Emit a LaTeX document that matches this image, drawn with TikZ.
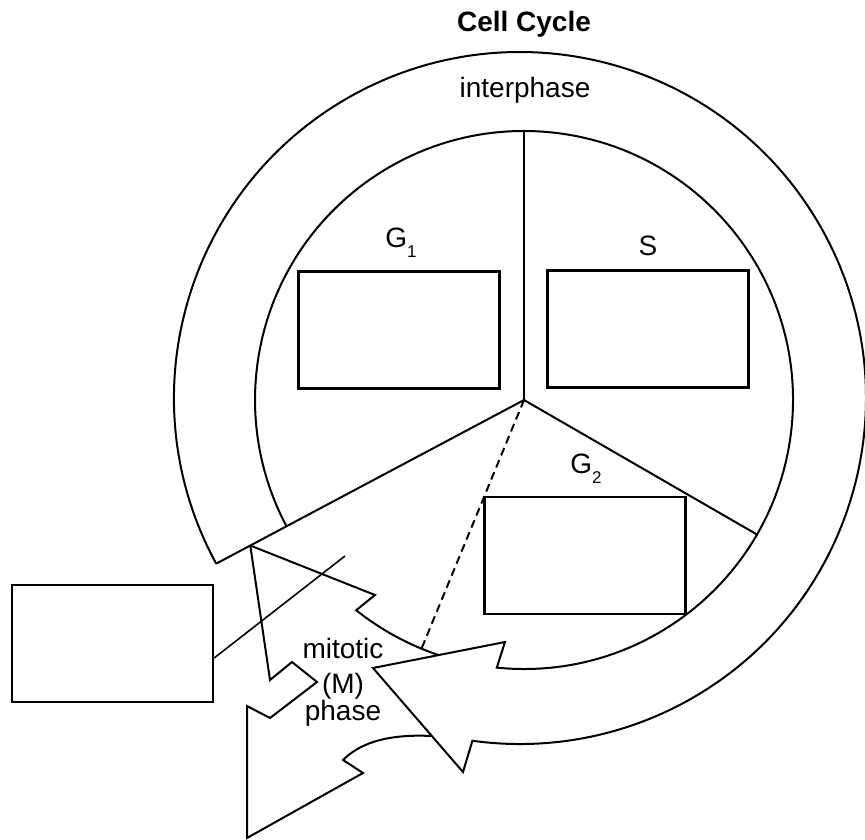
\documentclass[tikz,border=0pt]{standalone}
\usepackage{fontspec}
\setmainfont{Liberation Sans}
\usetikzlibrary{calc}
\tikzset{
  lbl/.style={inner sep=0pt, font=\fontsize{28}{32}\selectfont},
  stroke/.style={line width=2pt, line join=miter},
  box/.style={draw, line width=2.3pt, minimum width=201pt, minimum height=117pt, inner sep=0pt},
  pointer/.style={line width=1.6pt},
  divider/.style={line width=2pt, dash pattern=on 8pt off 5pt}
}
\newcommand{\subnum}[1]{\raisebox{-10pt}{\fontsize{17}{17}\selectfont #1}}
\begin{document}
\begin{tikzpicture}[x=1pt,y=-1pt]
\useasboundingbox (0,0) rectangle (865,840);
% centres
\coordinate (C) at (524,400);
% key points
\coordinate (oc) at ($(C)+(152:348.6)$);
\coordinate (ic) at ($(C)+(152:269)$);
\coordinate (top) at ($(C)+(-90:269)$);
\coordinate (rt) at ($(C)+(30:269)$);
\coordinate (dsh) at ($(C)+(112.4:269)$);
\coordinate (ni) at ($(C)+(95.8:269)$);
\coordinate (T) at (373,668);
\coordinate (U) at (505,642);
\coordinate (L) at (463,772);
\coordinate (P1) at ($(C)+(152:310)$);
\coordinate (k) at (375,595);
\coordinate (l) at ($(C)+(128.6:269)$);
\coordinate (b) at (270,680);
\coordinate (c) at (292,662);
\coordinate (d) at (317,682);
\coordinate (e) at (270,718);
\coordinate (f) at (247,706);
\coordinate (g) at (247,838);
\coordinate (h) at (363,773);
\coordinate (i) at (343,760);
\coordinate (xA) at ($(T)!0.654!(L)$);
\coordinate (mpt) at (345,556);

% ring (interphase) ending in arrowhead
\draw[stroke] (C) -- (oc);
\draw[stroke] (oc) arc[start angle=151.4, end angle=457.9, radius=346]
  -- (L) -- (T) -- (U) -- (ni) arc[start angle=95.8, end angle=-208, radius=269];
% sector dividers
\draw[stroke] (C) -- (top);
\draw[stroke] (C) -- (rt);
\draw[divider] (C) -- (dsh);
% mitotic arrows
\draw[stroke] (P1) -- (k) -- (l) arc[start angle=128.6, end angle=108.5, radius=269];
\draw[stroke] (P1) -- (b) -- (c) -- (d) -- (e) -- (f) -- (g) -- (h) -- (i)
  .. controls (362,741) and (392,734) .. (xA);

% boxes
\node[box] (g1box) at (399,330) {};
\node[box] (sbox) at (648,329) {};
\node[box] (g2box) at (585,555.5) {};
\node[box] (mbox) at (112.5,643.5) {};
\draw[pointer] ($(mbox.east)+(0,14.5)$) -- (mpt);

% labels
\node[lbl, anchor=base, font=\fontsize{28}{32}\selectfont\bfseries] (title) at (524,32) {Cell Cycle};
\node[lbl, anchor=base] (inter) at (525,98) {interphase};
\node[lbl, anchor=base] (g1lbl) at (401,247) {G\subnum{1}};
\node[lbl, anchor=base] (slbl) at (648,255) {S};
\node[lbl, anchor=base] (g2lbl) at (586,473) {G\subnum{2}};
\node[lbl, anchor=base] (mit1) at (343,658) {mitotic};
\node[lbl, anchor=base] (mit2) at (343,693) {(M)};
\node[lbl, anchor=base] (mit3) at (343,720) {phase};
\end{tikzpicture}
\end{document}
